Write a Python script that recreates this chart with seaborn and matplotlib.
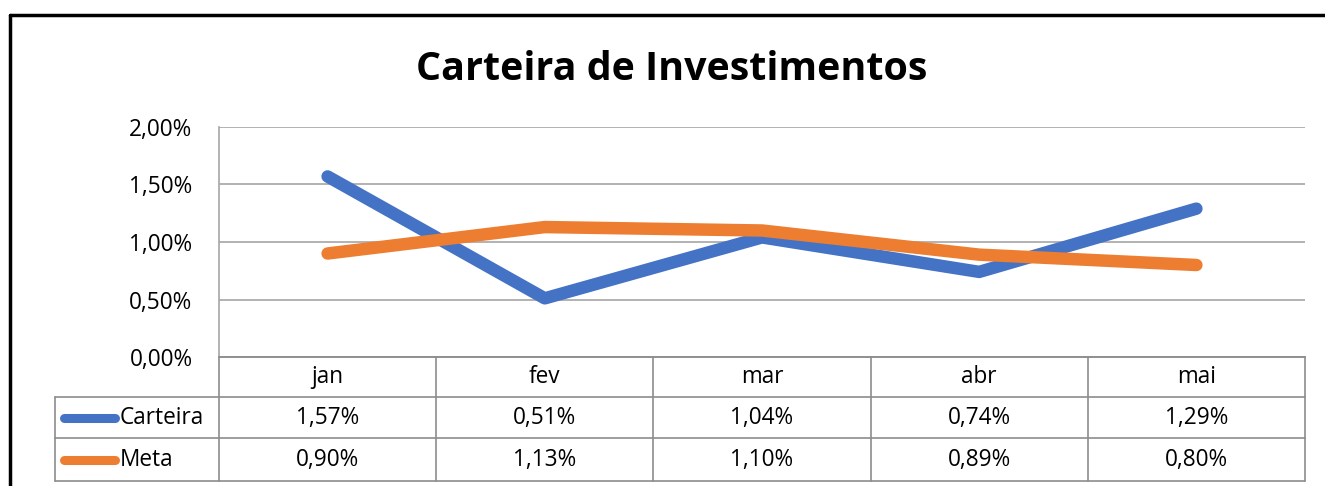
import matplotlib.pyplot as plt
from matplotlib.lines import Line2D
import seaborn as sns
import pandas as pd

months = ["jan", "fev", "mar", "abr", "mai"]
carteira = [1.57, 0.51, 1.04, 0.74, 1.29]
meta = [0.90, 1.13, 1.10, 0.89, 0.80]
series = ["Carteira", "Meta"]
y_ticks = [0.0, 0.5, 1.0, 1.5, 2.0]
palette = {"Carteira": "#4472C4", "Meta": "#ED7D31"}

W, H = 1325, 486


def fx(px):
    return px / W


def fy(py):
    return 1 - py / H


def pct(v):
    return f"{v:.2f}%".replace(".", ",")


sns.set_theme(style="white")
plt.rcParams["font.family"] = ["Open Sans", "DejaVu Sans"]
plt.rcParams["text.color"] = "black"

df = pd.DataFrame({
    "pos": list(range(len(months))) * 2,
    "valor": carteira + meta,
    "serie": [series[0]] * len(carteira) + [series[1]] * len(meta),
})

fig = plt.figure(figsize=(W / 100, H / 100), dpi=100, facecolor="white")

fs = 16.3

# main plot area
ax = fig.add_axes([fx(219), fy(357), fx(1305) - fx(219), fy(127) - fy(357)])
sns.lineplot(data=df, x="pos", y="valor", hue="serie", palette=palette,
             linewidth=9, solid_capstyle="round", legend=False, ax=ax)
ax.set_xlim(-0.5, len(months) - 0.5)
ax.set_ylim(0, 2)
ax.set_yticks(y_ticks)
ax.set_yticklabels([pct(v) for v in y_ticks], fontsize=fs)
ax.set_xticks([])
ax.set_xlabel("")
ax.set_ylabel("")
ax.tick_params(axis="y", length=0, pad=19, colors="black")
ax.yaxis.grid(True, color="#a6a6a6", linewidth=1.2)
ax.set_axisbelow(True)
for s in ["top", "right"]:
    ax.spines[s].set_visible(False)
for s in ["left", "bottom"]:
    ax.spines[s].set_color("#a6a6a6")
    ax.spines[s].set_linewidth(1.2)

# data table below
unit = (1305 - 219) / len(months)
x_left = -0.5 - (219 - 55) / unit
tax = fig.add_axes([fx(55), fy(481), fx(1305) - fx(55), fy(357) - fy(481)])
tax.set_xlim(x_left, len(months) - 0.5)
tax.set_ylim(481, 357)
tax.axis("off")

tc = "#8c8c8c"
rows = [357, 397, 438, 481]
for i in range(len(months) + 1):
    tax.plot([i - 0.5, i - 0.5], [357, 481], color=tc, lw=1.2, clip_on=False)
tax.plot([x_left, x_left], [397, 481], color=tc, lw=1.2, clip_on=False)
tax.plot([-0.5, len(months) - 0.5], [357, 357], color=tc, lw=1.2, clip_on=False)
for r in rows[1:]:
    tax.plot([x_left, len(months) - 0.5], [r, r], color=tc, lw=1.2, clip_on=False)

for i, m in enumerate(months):
    tax.text(i, 377, m, ha="center", va="center", fontsize=fs)
for r, (name, vals) in enumerate(zip(series, [carteira, meta])):
    yc = (rows[r + 1] + rows[r + 2]) / 2
    for i, v in enumerate(vals):
        tax.text(i, yc, pct(v), ha="center", va="center", fontsize=fs)
    k0 = x_left + 9 / unit
    k1 = x_left + 60 / unit
    tax.plot([k0, k1], [yc, yc], color=palette[name], lw=6.5, solid_capstyle="round")
    tax.text(x_left + 65 / unit, yc, name, ha="left", va="center", fontsize=fs)

# title
fig.text(fx(672), fy(70), "Carteira de Investimentos", ha="center", va="center",
         fontsize=28.4, fontweight="bold", color="black")

# outer frame (cut at right / bottom)
fig.add_artist(Line2D([fx(10), fx(10)], [0, fy(15)], color="black", lw=2.5))
fig.add_artist(Line2D([fx(10), 1], [fy(15), fy(15)], color="black", lw=2.5))

fig.savefig("out.png", dpi=100, facecolor="white")
